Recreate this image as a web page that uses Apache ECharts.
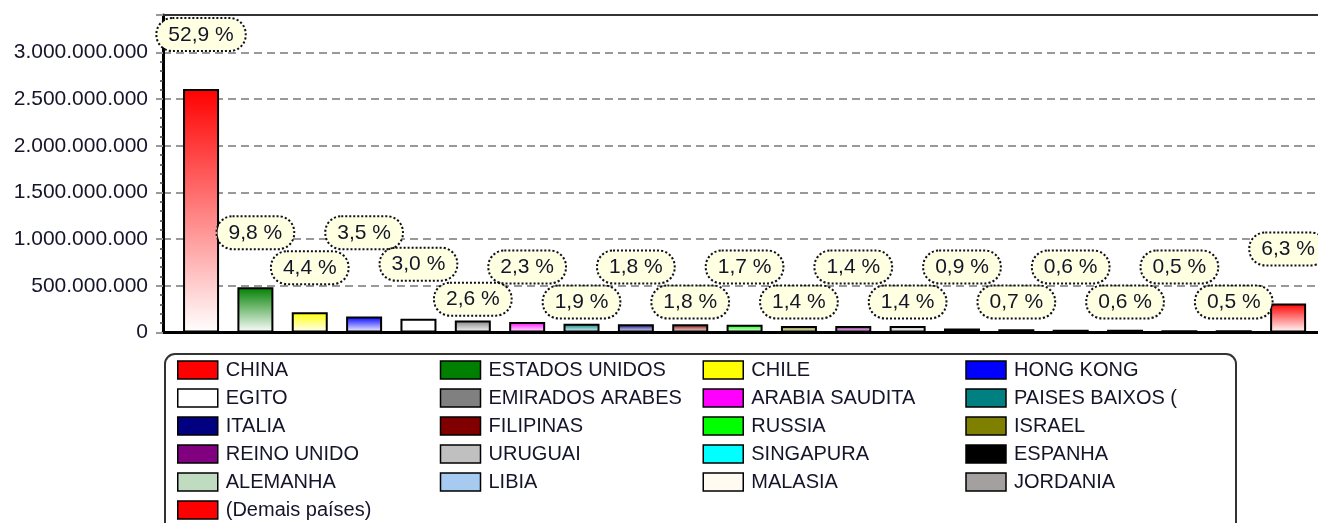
<!DOCTYPE html>
<html>
<head>
<meta charset="utf-8">
<script src="https://cdn.jsdelivr.net/npm/echarts@6/dist/echarts.min.js"></script>
<style>
  html, body { margin: 0; padding: 0; background: #fff; }
  #chart { width: 1318px; height: 523px; }
</style>
</head>
<body>
<div id="chart"></div>
<script>
// paises, na ordem das barras
const categories = [
  'CHINA', 'ESTADOS UNIDOS', 'CHILE', 'HONG KONG',
  'EGITO', 'EMIRADOS ARABES', 'ARABIA SAUDITA', 'PAISES BAIXOS (',
  'ITALIA', 'FILIPINAS', 'RUSSIA', 'ISRAEL',
  'REINO UNIDO', 'URUGUAI', 'SINGAPURA', 'ESPANHA',
  'ALEMANHA', 'LIBIA', 'MALASIA', 'JORDANIA',
  '(Demais países)'
]
const values = [
  2607000000, 485000000, 217000000, 172000000,
  148000000, 128000000, 113000000, 94000000,
  89000000, 89000000, 84000000, 69000000,
  69000000, 69000000, 44000000, 35000000,
  30000000, 30000000, 25000000, 25000000,
  311000000
]
const percentLabels = [
  '52,9 %', '9,8 %', '4,4 %', '3,5 %',
  '3,0 %', '2,6 %', '2,3 %', '1,9 %',
  '1,8 %', '1,8 %', '1,7 %', '1,4 %',
  '1,4 %', '1,4 %', '0,9 %', '0,7 %',
  '0,6 %', '0,6 %', '0,5 %', '0,5 %',
  '6,3 %'
]
const colors = [
  '#FF0000', '#008000', '#FFFF00', '#0000FF',
  '#FFFFFF', '#808080', '#FF00FF', '#008080',
  '#000080', '#800000', '#00FF00', '#808000',
  '#800080', '#C0C0C0', '#00FFFF', '#000000',
  '#C0DCC0', '#A6CAF0', '#FFFBF0', '#A4A0A0',
  '#FF0000'
]
const yTicks = { min: 0, max: 3400000000, interval: 500000000 }

const FONT = "'Liberation Sans', Arial, sans-serif"
const TEXT_COLOR = '#15152a'

let chartDom = document.getElementById('chart')
let myChart = echarts.init(chartDom)

function fmtThousands (v) {
  return String(v).replace(/\B(?=(\d{3})+(?!\d))/g, '.')
}

let series = []
for (let i = 0; i < categories.length; i++) {
  series.push({
    name: categories[i],
    type: 'bar',
    stack: 'all',
    barWidth: 36,
    data: [[i, values[i]]],
    itemStyle: {
      color: new echarts.graphic.LinearGradient(0, 0, 0, 1, [
        { offset: 0, color: colors[i] },
        { offset: 1, color: '#FFFFFF' }
      ]),
      borderColor: '#000',
      borderWidth: 2
    },
    label: {
      show: true,
      position: 'top',
      distance: 39,
      formatter: percentLabels[i],
      fontFamily: FONT,
      fontSize: 21,
      lineHeight: 22,
      color: TEXT_COLOR,
      backgroundColor: '#FFFFE1',
      borderColor: '#111',
      borderWidth: 2,
      borderType: [2, 2],
      borderRadius: 15,
      padding: [5, 11, 4, 11]
    }
  })
}

let legendData = categories.map((name, i) => ({
  name: name,
  itemStyle: { color: colors[i], borderColor: '#000', borderWidth: 1.5 }
}))

let option = {
  animation: false,
  grid: { left: 163, right: 0, top: 15, bottom: 190.5 },
  xAxis: [
    {
      type: 'value',
      min: -0.7,
      max: 20.55,
      axisLine: { show: true, onZero: false, lineStyle: { color: '#000', width: 3 } },
      axisTick: { show: false },
      axisLabel: { show: false },
      splitLine: { show: false }
    },
    {
      type: 'value',
      position: 'top',
      min: -0.7,
      max: 20.55,
      axisLine: { show: true, onZero: false, lineStyle: { color: '#333', width: 2 } },
      axisTick: { show: false },
      axisLabel: { show: false },
      splitLine: { show: false }
    }
  ],
  yAxis: {
    type: 'value',
    min: yTicks.min,
    max: yTicks.max,
    interval: yTicks.interval,
    axisLine: { show: true, onZero: false, lineStyle: { color: '#000', width: 3 } },
    axisTick: { show: true, length: 7, lineStyle: { color: '#999', width: 2 } },
    minorTick: { show: true, splitNumber: 5, length: 3, lineStyle: { color: '#444', width: 1.5 } },
    axisLabel: {
      margin: 15,
      showMaxLabel: false,
      fontFamily: FONT,
      fontSize: 21,
      color: TEXT_COLOR,
      formatter: fmtThousands
    },
    splitLine: { show: true, lineStyle: { color: '#999', width: 2, type: [8, 5] } }
  },
  legend: {
    data: legendData,
    selectedMode: false,
    orient: 'horizontal',
    left: 165,
    top: 354,
    width: 1062,
    padding: [4, 12, 14, 12],
    itemGap: 4,
    itemWidth: 40,
    itemHeight: 18,
    icon: 'rect',
    borderColor: '#333',
    borderWidth: 2,
    borderRadius: 10,
    backgroundColor: '#fff',
    textStyle: {
      fontFamily: FONT,
      fontSize: 20,
      lineHeight: 24,
      color: TEXT_COLOR,
      width: 210,
      overflow: 'truncate',
      padding: [0, 0, 0, 3]
    }
  },
  series: series
}

myChart.setOption(option)

// posiciona os rotulos evitando sobreposicao (como no grafico original)
const LABEL_H = 31
const LABEL_W = 92
const GAP = 39
const FLOOR = 50
const SPACE = 4
let zeroY = myChart.convertToPixel({ seriesIndex: 0 }, [0, 0])[1]
let placed = []
function hit (x, bottom) {
  return placed.find(p => Math.abs(p.x - x) < LABEL_W &&
    bottom > p.bottom - LABEL_H && bottom - LABEL_H < p.bottom)
}
let labelUpdates = []
for (let i = 0; i < categories.length; i++) {
  let pt = myChart.convertToPixel({ seriesIndex: i }, [i, values[i]])
  let x = pt[0]
  let top = pt[1]
  let bottom = Math.min(top - GAP, zeroY - FLOOR)
  let other = hit(x, bottom)
  if (other) {
    let below = other.bottom + SPACE + LABEL_H
    if (below < top && !hit(x, below)) {
      bottom = below
    } else {
      bottom = other.bottom - LABEL_H - SPACE
      let again = hit(x, bottom)
      while (again) {
        bottom = again.bottom - LABEL_H - SPACE
        again = hit(x, bottom)
      }
    }
  }
  placed.push({ x: x, bottom: bottom })
  labelUpdates.push({ label: { distance: top - bottom } })
}
myChart.setOption({ series: labelUpdates })
</script>
</body>
</html>
